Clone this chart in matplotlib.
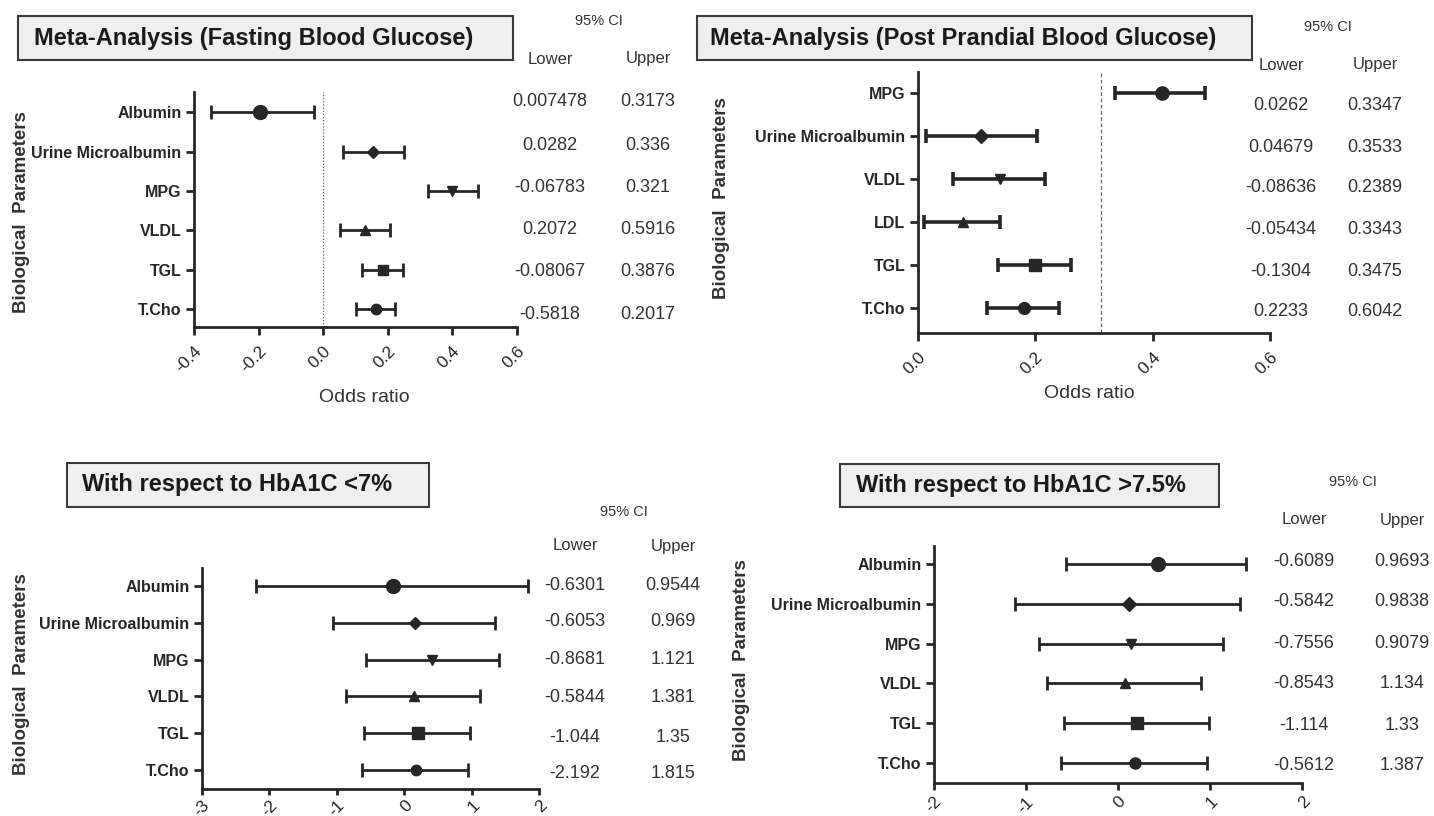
import matplotlib
matplotlib.use('Agg')
import matplotlib.pyplot as plt
from matplotlib.patches import Rectangle

plt.rcParams['font.family'] = ['Liberation Sans', 'DejaVu Sans']

W, H = 1434, 816

# ---------------- data ----------------
# Panel 1: Fasting blood glucose
fbg_labels = ["Albumin", "Urine Microalbumin", "MPG", "VLDL", "TGL", "T.Cho"]
fbg_or = [-0.195, 0.155, 0.400, 0.128, 0.184, 0.164]
fbg_low = [-0.346, 0.061, 0.323, 0.051, 0.121, 0.100]
fbg_high = [-0.028, 0.249, 0.480, 0.206, 0.246, 0.223]
fbg_ci_lower = ["0.007478", "0.0282", "-0.06783", "0.2072", "-0.08067", "-0.5818"]
fbg_ci_upper = ["0.3173", "0.336", "0.321", "0.5916", "0.3876", "0.2017"]
fbg_xticks = [-0.4, -0.2, 0.0, 0.2, 0.4, 0.6]
fbg_xticklabels = ["-0.4", "-0.2", "0.0", "0.2", "0.4", "0.6"]
fbg_ref = 0.0

# Panel 2: Post prandial blood glucose
ppbg_labels = ["MPG", "Urine Microalbumin", "VLDL", "LDL", "TGL", "T.Cho"]
ppbg_or = [0.416, 0.108, 0.140, 0.076, 0.199, 0.180]
ppbg_low = [0.336, 0.013, 0.059, 0.010, 0.137, 0.117]
ppbg_high = [0.490, 0.202, 0.217, 0.140, 0.260, 0.241]
ppbg_ci_lower = ["0.0262", "0.04679", "-0.08636", "-0.05434", "-0.1304", "0.2233"]
ppbg_ci_upper = ["0.3347", "0.3533", "0.2389", "0.3343", "0.3475", "0.6042"]
ppbg_xticks = [0.0, 0.2, 0.4, 0.6]
ppbg_xticklabels = ["0.0", "0.2", "0.4", "0.6"]
ppbg_ref = 0.312

# Panel 3: HbA1C < 7%
low7_labels = ["Albumin", "Urine Microalbumin", "MPG", "VLDL", "TGL", "T.Cho"]
low7_or = [-0.16, 0.16, 0.41, 0.14, 0.20, 0.18]
low7_low = [-2.20, -1.05, -0.57, -0.86, -0.59, -0.63]
low7_high = [1.83, 1.35, 1.40, 1.13, 0.97, 0.95]
low7_ci_lower = ["-0.6301", "-0.6053", "-0.8681", "-0.5844", "-1.044", "-2.192"]
low7_ci_upper = ["0.9544", "0.969", "1.121", "1.381", "1.35", "1.815"]
low7_xticks = [-3, -2, -1, 0, 1, 2]
low7_xticklabels = ["-3", "-2", "-1", "0", "1", "2"]

# Panel 4: HbA1C > 7.5%
high75_labels = ["Albumin", "Urine Microalbumin", "MPG", "VLDL", "TGL", "T.Cho"]
high75_or = [0.43, 0.12, 0.14, 0.08, 0.21, 0.19]
high75_low = [-0.56, -1.12, -0.86, -0.77, -0.59, -0.62]
high75_high = [1.39, 1.33, 1.14, 0.90, 0.99, 0.97]
high75_ci_lower = ["-0.6089", "-0.5842", "-0.7556", "-0.8543", "-1.114", "-0.5612"]
high75_ci_upper = ["0.9693", "0.9838", "0.9079", "1.134", "1.33", "1.387"]
high75_xticks = [-2, -1, 0, 1, 2]
high75_xticklabels = ["-2", "-1", "0", "1", "2"]

titles = ["Meta-Analysis (Fasting Blood Glucose)",
          "Meta-Analysis (Post Prandial Blood Glucose)",
          "With respect to HbA1C <7%",
          "With respect to HbA1C >7.5%"]

# ---------------- drawing ----------------
fig = plt.figure(figsize=(W / 100, H / 100), dpi=100)
fig.patch.set_facecolor('white')

INK = '#262626'


def fx(x):
    return x / W


def fy(y):
    return 1 - y / H


def add_axes_px(l, t, r, b):
    return fig.add_axes([fx(l), fy(b), (r - l) / W, (b - t) / H])


def draw_panel(box, labels, orr, lo, hi, markers, msizes, xticks, xticklabels,
               ypad, ref=None, ref_style=None, lw=2.0, xpad=6, xlen=6):
    l, t, r, b = box
    ax = add_axes_px(l, t, r, b)
    n = len(labels)
    for i in range(n):
        ax.errorbar(orr[i], i, xerr=[[orr[i] - lo[i]], [hi[i] - orr[i]]],
                    fmt=markers[i], ms=msizes[i], color=INK, mfc=INK, mec=INK,
                    elinewidth=lw, capsize=5, capthick=lw, zorder=3)
    if ref is not None:
        ax.axvline(ref, color='#666666', lw=0.9, ls=ref_style, zorder=1)
    ax.set_xlim(xticks[0], xticks[-1])
    ax.set_ylim(n - 1 + ypad[1], -ypad[0])
    ax.set_yticks(range(n))
    ax.set_yticklabels(labels, fontsize=11.5, fontweight='bold', color=INK)
    ax.set_xticks(xticks)
    ax.set_xticklabels(xticklabels, fontsize=12.5, color=INK, rotation=45,
                       ha='right', va='top', rotation_mode='anchor')
    for s in ['top', 'right']:
        ax.spines[s].set_visible(False)
    for s in ['left', 'bottom']:
        ax.spines[s].set_linewidth(2)
        ax.spines[s].set_color(INK)
    ax.tick_params(axis='y', length=6, width=2, color=INK, pad=3)
    ax.tick_params(axis='x', length=xlen, width=2, color=INK, pad=xpad)
    ax.patch.set_alpha(0)
    return ax


def title_box(x0, y0, x1, y1, tx, text):
    rect = Rectangle((fx(x0), fy(y1)), (x1 - x0) / W, (y1 - y0) / H,
                     transform=fig.transFigure, facecolor='#efefef',
                     edgecolor='#3a3a3a', linewidth=1.5, zorder=5)
    fig.patches.append(rect)
    fig.text(fx(tx), fy((y0 + y1) / 2), text, fontsize=17, fontweight='bold',
             color='#1a1a1a', ha='left', va='center', zorder=6)


def ci_table(xl, xu, yhead, ylu, ys, lower, upper):
    fig.text(fx((xl + xu) / 2), fy(yhead), "95% CI", fontsize=10.5,
             color='#333333', ha='center', va='center')
    fig.text(fx(xl), fy(ylu), "Lower", fontsize=12, color='#333333',
             ha='center', va='center')
    fig.text(fx(xu), fy(ylu), "Upper", fontsize=12, color='#333333',
             ha='center', va='center')
    for y, a, b in zip(ys, lower, upper):
        fig.text(fx(xl), fy(y), a, fontsize=13, color='#333333',
                 ha='center', va='center')
        fig.text(fx(xu), fy(y), b, fontsize=13, color='#333333',
                 ha='center', va='center')


def ylabel(x, y):
    fig.text(fx(x), fy(y), "Biological  Parameters", fontsize=13.5,
             fontweight='bold', color='#333333', rotation=90,
             ha='center', va='center')


# Panel 1
draw_panel((194, 92, 517, 327), fbg_labels, fbg_or, fbg_low, fbg_high,
           ['o', 'D', 'v', '^', 's', 'o'], [10, 6, 6.5, 6.5, 7.5, 7.5],
           fbg_xticks, fbg_xticklabels, (0.51, 0.45),
           ref=fbg_ref, ref_style=(0, (1, 1.5)), lw=2.0)
title_box(18, 16, 513, 60, 34, titles[0])
ci_table(550, 648, 21, 59, [102, 145, 188, 230, 272, 315],
         fbg_ci_lower, fbg_ci_upper)
ylabel(22, 212)
fig.text(fx(364), fy(397), "Odds ratio", fontsize=14, color='#333333',
         ha='center', va='center')

# Panel 2
draw_panel((918, 72, 1270, 333), ppbg_labels, ppbg_or, ppbg_low, ppbg_high,
           ['o', 'D', 'v', '^', 's', 'o'], [9.5, 7, 7.5, 7.5, 9, 8.5],
           ppbg_xticks, ppbg_xticklabels, (0.49, 0.58),
           ref=ppbg_ref, ref_style=(0, (3, 2)), lw=2.6)
title_box(697, 16, 1252, 60, 710, titles[1])
ci_table(1281, 1375, 27, 65, [106, 147, 188, 229, 271, 312],
         ppbg_ci_lower, ppbg_ci_upper)
ylabel(722, 198)
fig.text(fx(1089), fy(393), "Odds ratio", fontsize=14, color='#333333',
         ha='center', va='center')

# Panel 3
draw_panel((202, 568, 539, 789), low7_labels, low7_or, low7_low, low7_high,
           ['o', 'D', 'v', '^', 's', 'o'], [10, 6.5, 7, 7, 8, 7.5],
           low7_xticks, low7_xticklabels, (0.49, 0.52), lw=2.0,
           xpad=2, xlen=4)
title_box(67, 463, 429, 507, 82, titles[2])
ci_table(575, 673, 512, 546, [585, 622, 660, 698, 737, 774],
         low7_ci_lower, low7_ci_upper)
ylabel(22, 674)

# Panel 4
draw_panel((934, 546, 1302, 783), high75_labels, high75_or, high75_low,
           high75_high, ['o', 'D', 'v', '^', 's', 'o'],
           [10, 7, 7.5, 7.5, 8.5, 8],
           high75_xticks, high75_xticklabels, (0.45, 0.5), lw=2.0,
           xpad=3, xlen=5)
title_box(840, 464, 1219, 507, 856, titles[3])
ci_table(1304, 1402, 482, 520, [561, 602, 643, 684, 725, 766],
         high75_ci_lower, high75_ci_upper)
ylabel(741, 660)

fig.savefig('out.png', dpi=100, facecolor='white')
